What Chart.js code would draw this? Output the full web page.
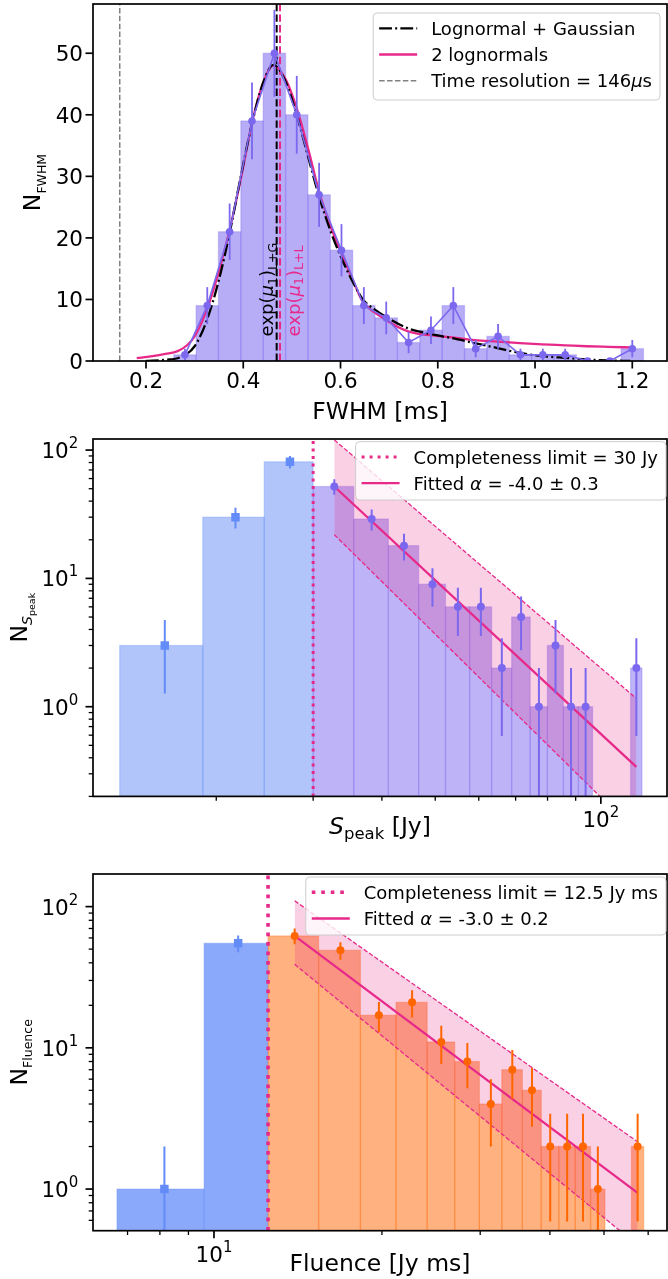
<!DOCTYPE html>
<html>
<head>
<meta charset="utf-8">
<script src="https://cdn.jsdelivr.net/npm/chart.js@4/dist/chart.umd.min.js"></script>
<style>
  html, body { margin: 0; padding: 0; background: #fff; }
  #figure { position: relative; width: 668px; height: 1279px; overflow: hidden; }
  #figure canvas { position: absolute; left: 0; }
</style>
</head>
<body>
<div id="figure">
  <canvas id="fwhm-chart" width="668" height="430" style="top:0"></canvas>
  <canvas id="speak-chart" width="668" height="440" style="top:430px"></canvas>
  <canvas id="fluence-chart" width="668" height="409" style="top:870px"></canvas>
</div>
<script>
// FWHM distribution (ms)
const FWHM_BIN_WIDTH = 0.046;
const fwhmCenters = [0.280, 0.326, 0.372, 0.418, 0.464, 0.510, 0.556, 0.602, 0.648, 0.694, 0.740,
                     0.786, 0.832, 0.878, 0.924, 0.970, 1.016, 1.062, 1.108, 1.154, 1.200];
const fwhmCounts = [1, 9, 21, 39, 50, 40, 27, 18, 9, 7, 3, 5, 9, 2, 4, 1, 1, 1, 0, 0, 2];
const fwhmErrors = [1, 3, 4.58, 6.24, 7.07, 6.32, 5.2, 4.24, 3, 2.65, 1.73, 2.24, 3, 1.41, 2, 1, 1, 1, 0, 0, 1.41];

// Fitted models
const lgCurveX = [0.20, 0.24, 0.27, 0.30, 0.325, 0.35, 0.372, 0.395, 0.418, 0.44, 0.462, 0.487, 0.511, 0.534,
                  0.556, 0.58, 0.602, 0.625, 0.646, 0.67, 0.693, 0.739, 0.784, 0.83, 0.876, 0.923, 0.969,
                  1.015, 1.062, 1.106, 1.15, 1.196];
const lgCurveY = [0.03, 0.2, 0.6, 2.4, 6.6, 13.2, 20.8, 30.0, 38.6, 45.0, 48.1, 45.4, 39.7, 33.0,
                  26.7, 21.0, 16.7, 12.9, 10.0, 8.4, 7.2, 5.3, 4.4, 3.7, 2.9, 2.1, 1.3,
                  0.8, 0.5, 0.25, 0.1, 0.0];
const llCurveX = [0.181, 0.21, 0.24, 0.265, 0.285, 0.30, 0.325, 0.35, 0.372, 0.395, 0.418, 0.44, 0.462,
                  0.487, 0.511, 0.534, 0.556, 0.58, 0.602, 0.625, 0.646, 0.67, 0.693, 0.716, 0.739, 0.76,
                  0.784, 0.83, 0.876, 0.923, 0.969, 1.015, 1.062, 1.106, 1.15, 1.2];
const llCurveY = [0.45, 0.75, 1.15, 1.6, 2.6, 4.0, 8.3, 14.6, 21.3, 29.6, 38.7, 45.0, 48.0,
                  45.8, 40.8, 34.3, 27.5, 21.8, 17.5, 13.2, 9.6, 7.9, 6.7, 5.6, 4.8, 4.4,
                  4.2, 3.85, 3.4, 3.15, 2.9, 2.7, 2.55, 2.4, 2.3, 2.2];
const timeResolution = 0.146;
const expMuLG = 0.4687;
const expMuLL = 0.4756;

// Peak flux distribution (Jy)
const SPEAK_BIN_WIDTH = 5.55;
const speakBelowCenters = [16.125, 21.675, 27.225];
const speakBelowCounts = [3, 30, 81];
const speakBelowErrors = [1.73, 5.48, 9];
const speakCenters = [32.775, 38.325, 43.875, 49.425, 54.975, 60.525, 66.075, 71.625,
                      77.175, 82.725, 88.275, 93.825, 99.375, 104.925, 110.475, 116.025];
const speakCounts = [52, 29, 18, 9, 6, 6, 2, 5, 1, 3, 1, 1, 0, 0, 0, 2];
const speakErrors = [7.21, 5.39, 4.24, 3, 2.45, 2.45, 1.41, 2.24, 1, 1.73, 1, 1, 0, 0, 0, 1.41];
const speakLimit = 30;
const speakFitX = [32.775, 116.025];
const speakFitY = [52, 0.34];
const speakBandUpper = [120, 1.16];
const speakBandLower = [21.9, 0.105];

// Fluence distribution (Jy ms)
const FLUENCE_BIN_WIDTH = 2.9;
const fluenceBelowCenters = [8.15, 11.05];
const fluenceBelowCounts = [1, 55];
const fluenceBelowErrors = [1, 7.42];
const fluenceCenters = [13.95, 16.85, 19.75, 22.65, 25.55, 28.45, 31.35, 34.25,
                        37.15, 40.05, 42.95, 45.85, 48.75, 51.65, 54.55, 57.45];
const fluenceCounts = [62, 49, 17, 21, 11, 8, 4, 7, 5, 2, 2, 2, 1, 0, 0, 2];
const fluenceErrors = [7.87, 7, 4.12, 4.58, 3.32, 2.83, 2, 2.65, 2.24, 1.41, 1.41, 1.41, 1, 0, 0, 1.41];
const fluenceLimit = 12.5;
const fluenceFitX = [13.95, 57.45];
const fluenceFitY = [62, 0.94];
const fluenceBandUpper = [110, 2.16];
const fluenceBandLower = [39, 0.40];

// Tick labels
const fwhmTickValues = [0.2, 0.4, 0.6, 0.8, 1.0, 1.2];
const fwhmTickLabels = ['0.2', '0.4', '0.6', '0.8', '1.0', '1.2'];
const countTickValues = [0, 10, 20, 30, 40, 50];
const countTickLabels = ['0', '10', '20', '30', '40', '50'];
const decadeValues = [1, 10, 100];
const decadeExponents = ['0', '1', '2'];
const speakXMajor = [100];
const speakXExponents = ['2'];
const fluenceXMajor = [10];
const fluenceXExponents = ['1'];

const FONT = "'DejaVu Sans', 'Liberation Sans', sans-serif";
const PURPLE = '#7b68ee';
const BLUE = 'rgb(100,140,248)';
const ORANGE = 'rgb(255,102,0)';
const PINK = '#e7298a';
const MAJOR_LEN = 7.5;
const MINOR_LEN = 4.3;

function points(xs, ys) {
    return xs.map((x, i) => ({ x, y: ys[i] }));
}

// log axes cannot show empty bins
function logPoints(xs, ys) {
    return xs.map((x, i) => ({ x, y: ys[i] > 0 ? ys[i] : null }));
}

function vline(value, yMin, yMax) {
    return [{ x: value, y: yMin }, { x: value, y: yMax }];
}

function logMinorTicks(min, max) {
    const out = [];
    for (let e = Math.floor(Math.log10(min)) - 1; e <= Math.ceil(Math.log10(max)); e++) {
        for (const m of [2, 3, 4, 5, 6, 7, 8, 9]) {
            const v = m * Math.pow(10, e);
            if (v >= min * 0.999 && v <= max * 1.001) out.push(v);
        }
    }
    return out;
}

// text made of pieces (sub/superscripts, italics) on one baseline
function textRuns(ctx, runs, x, y, align) {
    let total = 0;
    const sized = runs.map(r => {
        const font = `${r.italic ? 'italic ' : ''}${r.size || 18}px ${FONT}`;
        ctx.font = font;
        const w = ctx.measureText(r.text).width;
        total += w;
        return { ...r, font, w };
    });
    let cx = x;
    if (align === 'center') cx = x - total / 2;
    else if (align === 'right') cx = x - total;
    ctx.textAlign = 'left';
    ctx.textBaseline = 'alphabetic';
    sized.forEach(r => {
        ctx.font = r.font;
        ctx.fillText(r.text, cx, y + (r.dy || 0));
        cx += r.w;
    });
    return total;
}

function measureRuns(ctx, runs) {
    let total = 0;
    runs.forEach(r => {
        ctx.font = `${r.italic ? 'italic ' : ''}${r.size || 18}px ${FONT}`;
        total += ctx.measureText(r.text).width;
    });
    return total;
}

function powerLabel(exp) {
    return [{ text: '10', size: 21.5 }, { text: exp, size: 15, dy: -10 }];
}

function clipToArea(ctx, a) {
    ctx.beginPath();
    ctx.rect(a.left, a.top, a.right - a.left, a.bottom - a.top);
    ctx.clip();
}

function histogramPlugin(sets) {
    return {
        id: 'histogram',
        beforeDatasetsDraw(chart) {
            const { ctx, chartArea: a, scales: { x, y } } = chart;
            ctx.save();
            clipToArea(ctx, a);
            sets.forEach(set => {
                set.centers.forEach((c, i) => {
                    const n = set.counts[i];
                    if (!n) return;
                    const left = x.getPixelForValue(c - set.width / 2);
                    const right = x.getPixelForValue(c + set.width / 2);
                    const top = y.getPixelForValue(n);
                    ctx.fillStyle = set.fill;
                    ctx.fillRect(left, top, right - left, a.bottom - top);
                    ctx.strokeStyle = set.edge;
                    ctx.lineWidth = 1.3;
                    ctx.strokeRect(left, top, right - left, a.bottom - top);
                });
            });
            ctx.restore();
        }
    };
}

const errorBarPlugin = {
    id: 'errorBars',
    beforeDatasetDraw(chart, args) {
        const ds = chart.data.datasets[args.index];
        if (!ds.errors) return;
        const { ctx, chartArea: a, scales: { y } } = chart;
        ctx.save();
        clipToArea(ctx, a);
        ctx.strokeStyle = ds.errorColor;
        ctx.lineWidth = ds.errorWidth;
        args.meta.data.forEach((pt, i) => {
            const v = ds.data[i].y;
            const e = ds.errors[i];
            if (v == null || !e) return;
            const lo = v - e;
            const yTop = y.getPixelForValue(v + e);
            const yBot = lo > y.min ? y.getPixelForValue(lo) : a.bottom;
            ctx.beginPath();
            ctx.moveTo(pt.x, yTop);
            ctx.lineTo(pt.x, yBot);
            ctx.stroke();
        });
        ctx.restore();
    }
};

function axesPlugin(cfg) {
    return {
        id: 'frameAxes',
        afterDraw(chart) {
            const { ctx, chartArea: a, scales: { x, y } } = chart;
            ctx.save();
            ctx.strokeStyle = '#000';
            ctx.fillStyle = '#000';
            const seg = (x0, y0, x1, y1, w) => {
                ctx.lineWidth = w;
                ctx.beginPath();
                ctx.moveTo(x0, y0);
                ctx.lineTo(x1, y1);
                ctx.stroke();
            };
            (cfg.xMinor || []).forEach(v => {
                const px = x.getPixelForValue(v);
                seg(px, a.bottom, px, a.bottom + MINOR_LEN, 1.3);
            });
            (cfg.yMinor || []).forEach(v => {
                const py = y.getPixelForValue(v);
                seg(a.left - MINOR_LEN, py, a.left, py, 1.3);
            });
            cfg.xMajor.forEach(t => {
                const px = x.getPixelForValue(t.value);
                seg(px, a.bottom, px, a.bottom + MAJOR_LEN, 1.7);
                textRuns(ctx, t.runs, px, a.bottom + cfg.xTickBase, 'center');
            });
            cfg.yMajor.forEach(t => {
                const py = y.getPixelForValue(t.value);
                seg(a.left - MAJOR_LEN, py, a.left, py, 1.7);
                textRuns(ctx, t.runs, a.left - cfg.yTickGap, py + 8, 'right');
            });
            ctx.lineWidth = 1.7;
            ctx.strokeRect(a.left, a.top, a.right - a.left, a.bottom - a.top);

            textRuns(ctx, cfg.xTitle, (a.left + a.right) / 2, a.bottom + cfg.xTitleBase, 'center');
            ctx.save();
            ctx.translate(cfg.yTitleX, (a.top + a.bottom) / 2);
            ctx.rotate(-Math.PI / 2);
            textRuns(ctx, cfg.yTitle, 0, 0, 'center');
            ctx.restore();
            ctx.restore();
        }
    };
}

function roundedRect(ctx, x, y, w, h, r) {
    ctx.beginPath();
    ctx.moveTo(x + r, y);
    ctx.arcTo(x + w, y, x + w, y + h, r);
    ctx.arcTo(x + w, y + h, x, y + h, r);
    ctx.arcTo(x, y + h, x, y, r);
    ctx.arcTo(x, y, x + w, y, r);
    ctx.closePath();
}

function legendPlugin(cfg) {
    return {
        id: 'boxLegend',
        afterDraw(chart) {
            const { ctx, chartArea: a } = chart;
            ctx.save();
            const maxW = Math.max(...cfg.entries.map(e => measureRuns(ctx, e.runs)));
            const w = 58 + maxW + 8;
            const right = a.right - cfg.inset[0];
            const top = a.top + cfg.inset[1];
            const left = right - w;
            roundedRect(ctx, left, top, w, cfg.height, 4);
            ctx.fillStyle = 'rgba(255,255,255,0.8)';
            ctx.fill();
            ctx.strokeStyle = '#cccccc';
            ctx.lineWidth = 1;
            ctx.stroke();
            cfg.entries.forEach((e, i) => {
                const rowY = top + 15.3 + 26.2 * i;
                ctx.strokeStyle = e.color;
                ctx.lineWidth = e.width;
                ctx.setLineDash(e.dash || []);
                ctx.beginPath();
                ctx.moveTo(left + 6, rowY);
                ctx.lineTo(left + 44, rowY);
                ctx.stroke();
                ctx.setLineDash([]);
                ctx.fillStyle = '#000';
                textRuns(ctx, e.runs, left + 58, rowY + 6.6, 'left');
            });
            ctx.restore();
        }
    };
}

// rotated exp(mu_1) annotations next to the median lines
const medianNotesPlugin = {
    id: 'medianNotes',
    afterDatasetsDraw(chart) {
        const { ctx, scales: { x, y } } = chart;
        const notes = [
            { value: expMuLG, offset: -3.5, color: '#000', sub: 'L+G' },
            { value: expMuLL, offset: 20, color: PINK, sub: 'L+L' }
        ];
        ctx.save();
        notes.forEach(n => {
            ctx.save();
            ctx.translate(x.getPixelForValue(n.value) + n.offset, y.getPixelForValue(4));
            ctx.rotate(-Math.PI / 2);
            ctx.fillStyle = n.color;
            textRuns(ctx, [
                { text: 'exp(', size: 18 },
                { text: 'μ', size: 18, italic: true },
                { text: '1', size: 12.6, dy: 3.4 },
                { text: ')', size: 18 },
                { text: n.sub, size: 12.6, dy: 3.4 }
            ], 0, 0, 'left');
            ctx.restore();
        });
        ctx.restore();
    }
};

function chartOptions(xs, ys, padding) {
    return {
        responsive: false,
        animation: false,
        events: [],
        layout: { padding, autoPadding: false },
        plugins: { legend: { display: false }, tooltip: { enabled: false } },
        scales: {
            x: { type: xs.type, min: xs.min, max: xs.max, bounds: 'data', display: false },
            y: { type: ys.type, min: ys.min, max: ys.max, bounds: 'data', display: false }
        }
    };
}

function lineSet(data, color, width, dash, extra) {
    return Object.assign({
        data, borderColor: color, borderWidth: width, borderDash: dash || [],
        pointRadius: 0, fill: false, clip: 0
    }, extra || {});
}

function markerSet(data, color, errors, style, radius) {
    return {
        data, showLine: false, pointStyle: style, pointRadius: radius,
        pointBackgroundColor: color, pointBorderColor: color, pointBorderWidth: 0,
        errors, errorColor: color, errorWidth: 2, clip: 0
    };
}

// ---- FWHM panel ----
const FWHM_Y_MAX = 58;
new Chart(document.getElementById('fwhm-chart'), {
    type: 'line',
    data: {
        datasets: [
            {
                label: 'FWHM counts', data: points(fwhmCenters, fwhmCounts),
                borderColor: PURPLE, borderWidth: 1.6, pointRadius: 3.8,
                pointBackgroundColor: PURPLE, pointBorderColor: PURPLE, pointBorderWidth: 0,
                errors: fwhmErrors, errorColor: PURPLE, errorWidth: 1.8, clip: 0
            },
            lineSet(points(lgCurveX, lgCurveY), '#000', 2.3, [12.8, 3.2, 2, 3.2],
                { label: 'Lognormal + Gaussian', cubicInterpolationMode: 'monotone' }),
            lineSet(points(llCurveX, llCurveY), PINK, 2.3, [],
                { label: '2 lognormals', cubicInterpolationMode: 'monotone' }),
            lineSet(vline(expMuLG, 0, FWHM_Y_MAX), '#000', 2, [7.4, 3.2]),
            lineSet(vline(expMuLL, 0, FWHM_Y_MAX), PINK, 2, [7.4, 3.2]),
            lineSet(vline(timeResolution, 0, FWHM_Y_MAX), 'rgb(128,128,128)', 1.5, [5.5, 2.4],
                { label: 'Time resolution' })
        ]
    },
    options: chartOptions({ type: 'linear', min: 0.091, max: 1.2714 },
                          { type: 'linear', min: 0, max: FWHM_Y_MAX },
                          { left: 93, top: 4, right: 1, bottom: 69 }),
    plugins: [
        histogramPlugin([{ centers: fwhmCenters, counts: fwhmCounts, width: FWHM_BIN_WIDTH,
                           fill: 'rgba(123,104,238,0.55)', edge: 'rgba(123,104,238,0.3)' }]),
        errorBarPlugin,
        medianNotesPlugin,
        axesPlugin({
            xMajor: fwhmTickValues.map((v, i) => ({ value: v, runs: [{ text: fwhmTickLabels[i], size: 21.5 }] })),
            yMajor: countTickValues.map((v, i) => ({ value: v, runs: [{ text: countTickLabels[i], size: 21.5 }] })),
            xTickBase: 27, yTickGap: 10, xTitleBase: 58, yTitleX: 40,
            xTitle: [{ text: 'FWHM [ms]', size: 23.5 }],
            yTitle: [{ text: 'N', size: 23.5 }, { text: 'FWHM', size: 12.5, dy: 5.5 }]
        }),
        legendPlugin({
            inset: [7, 9], height: 87,
            entries: [
                { runs: [{ text: 'Lognormal + Gaussian' }], color: '#000', width: 2.3, dash: [12.8, 3.2, 2, 3.2] },
                { runs: [{ text: '2 lognormals' }], color: PINK, width: 2.3 },
                { runs: [{ text: 'Time resolution = 146' }, { text: 'μ', italic: true }, { text: 's' }],
                  color: 'rgb(128,128,128)', width: 1.5, dash: [5.5, 2.4] }
            ]
        })
    ]
});

// ---- Peak flux panel ----
const SPEAK_X = { type: 'logarithmic', min: 11.94, max: 131.9 };
const SPEAK_Y = { type: 'logarithmic', min: 0.2, max: 122 };
new Chart(document.getElementById('speak-chart'), {
    type: 'line',
    data: {
        datasets: [
            markerSet(logPoints(speakCenters, speakCounts), PURPLE, speakErrors, 'circle', 4),
            markerSet(logPoints(speakBelowCenters, speakBelowCounts), BLUE, speakBelowErrors, 'rect', 6),
            lineSet(points(speakFitX, speakFitY), PINK, 2.3, [], { label: 'Fitted alpha' }),
            lineSet(points(speakFitX, speakBandUpper), PINK, 1.3, [4.5, 2],
                { fill: '+1', backgroundColor: 'rgba(231,41,138,0.22)' }),
            lineSet(points(speakFitX, speakBandLower), PINK, 1.3, [4.5, 2]),
            lineSet(vline(speakLimit, SPEAK_Y.min, SPEAK_Y.max), PINK, 3, [3, 4.5],
                { label: 'Completeness limit' })
        ]
    },
    options: chartOptions(SPEAK_X, SPEAK_Y, { left: 93, top: 9, right: 1, bottom: 73.6 }),
    plugins: [
        histogramPlugin([
            { centers: speakBelowCenters, counts: speakBelowCounts, width: SPEAK_BIN_WIDTH,
              fill: 'rgba(100,140,248,0.5)', edge: 'rgba(100,140,248,0.3)' },
            { centers: speakCenters, counts: speakCounts, width: SPEAK_BIN_WIDTH,
              fill: 'rgba(123,104,238,0.5)', edge: 'rgba(123,104,238,0.3)' }
        ]),
        errorBarPlugin,
        axesPlugin({
            xMajor: speakXMajor.map((v, i) => ({ value: v, runs: powerLabel(speakXExponents[i]) })),
            xMinor: logMinorTicks(SPEAK_X.min, SPEAK_X.max),
            yMajor: decadeValues.map((v, i) => ({ value: v, runs: powerLabel(decadeExponents[i]) })),
            yMinor: logMinorTicks(SPEAK_Y.min, SPEAK_Y.max),
            xTickBase: 31, yTickGap: 14.7, xTitleBase: 38, yTitleX: 26.5,
            xTitle: [{ text: 'S', size: 23.5, italic: true }, { text: 'peak', size: 16.5, dy: 5 },
                     { text: ' [Jy]', size: 23.5 }],
            yTitle: [{ text: 'N', size: 23.5 }, { text: 'S', size: 14, italic: true, dy: 5 },
                     { text: 'peak', size: 9.5, dy: 8 }]
        }),
        legendPlugin({
            inset: [1, 2.7], height: 58.3,
            entries: [
                { runs: [{ text: 'Completeness limit = 30 Jy' }], color: PINK, width: 3, dash: [3, 5] },
                { runs: [{ text: 'Fitted ' }, { text: 'α', italic: true }, { text: ' = -4.0 ± 0.3' }],
                  color: PINK, width: 2.3 }
            ]
        })
    ]
});

// ---- Fluence panel ----
const FLUENCE_X = { type: 'logarithmic', min: 6.07, max: 64.85 };
const FLUENCE_Y = { type: 'logarithmic', min: 0.507, max: 170.2 };
new Chart(document.getElementById('fluence-chart'), {
    type: 'line',
    data: {
        datasets: [
            markerSet(logPoints(fluenceCenters, fluenceCounts), ORANGE, fluenceErrors, 'circle', 4),
            markerSet(logPoints(fluenceBelowCenters, fluenceBelowCounts), BLUE, fluenceBelowErrors, 'rect', 6),
            lineSet(points(fluenceFitX, fluenceFitY), PINK, 2.3, [], { label: 'Fitted alpha' }),
            lineSet(points(fluenceFitX, fluenceBandUpper), PINK, 1.3, [4.5, 2],
                { fill: '+1', backgroundColor: 'rgba(231,41,138,0.22)' }),
            lineSet(points(fluenceFitX, fluenceBandLower), PINK, 1.3, [4.5, 2]),
            lineSet(vline(fluenceLimit, FLUENCE_Y.min, FLUENCE_Y.max), PINK, 3.6, [3.6, 5.9],
                { label: 'Completeness limit' })
        ]
    },
    options: chartOptions(FLUENCE_X, FLUENCE_Y, { left: 93, top: 4, right: 1, bottom: 48.3 }),
    plugins: [
        histogramPlugin([
            { centers: fluenceBelowCenters, counts: fluenceBelowCounts, width: FLUENCE_BIN_WIDTH,
              fill: 'rgba(100,140,248,0.75)', edge: 'rgba(100,140,248,0.3)' },
            { centers: fluenceCenters, counts: fluenceCounts, width: FLUENCE_BIN_WIDTH,
              fill: 'rgba(255,102,0,0.5)', edge: 'rgba(255,102,0,0.3)' }
        ]),
        errorBarPlugin,
        axesPlugin({
            xMajor: fluenceXMajor.map((v, i) => ({ value: v, runs: powerLabel(fluenceXExponents[i]) })),
            xMinor: logMinorTicks(FLUENCE_X.min, FLUENCE_X.max),
            yMajor: decadeValues.map((v, i) => ({ value: v, runs: powerLabel(decadeExponents[i]) })),
            yMinor: logMinorTicks(FLUENCE_Y.min, FLUENCE_Y.max),
            xTickBase: 31, yTickGap: 14.7, xTitleBase: 40, yTitleX: 26.5,
            xTitle: [{ text: 'Fluence [Jy ms]', size: 23.5 }],
            yTitle: [{ text: 'N', size: 23.5 }, { text: 'Fluence', size: 12.5, dy: 5.5 }]
        }),
        legendPlugin({
            inset: [1, 3], height: 58,
            entries: [
                { runs: [{ text: 'Completeness limit = 12.5 Jy ms' }], color: PINK, width: 3.6, dash: [3.6, 5.9] },
                { runs: [{ text: 'Fitted ' }, { text: 'α', italic: true }, { text: ' = -3.0 ± 0.2' }],
                  color: PINK, width: 2.3 }
            ]
        })
    ]
});
</script>
</body>
</html>
